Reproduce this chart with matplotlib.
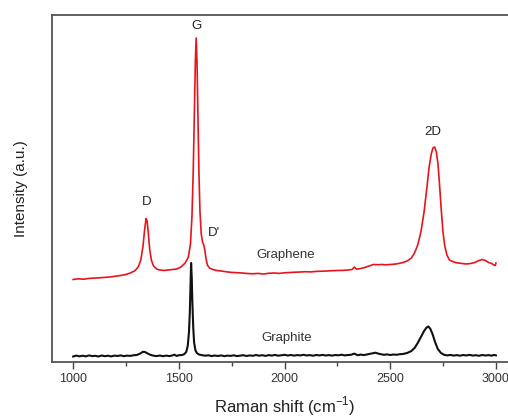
import matplotlib
matplotlib.use("Agg")
import matplotlib.pyplot as plt
from matplotlib.ticker import MultipleLocator

plt.rcParams['font.family'] = ['Liberation Sans', 'DejaVu Sans']

# Graphene spectrum (Raman shift in cm^-1, intensity in a.u.)
graphene_x = [1000, 1025, 1050, 1075, 1100, 1125, 1150, 1175, 1200, 1225, 1250, 1270, 1290,
              1300, 1310, 1320, 1330, 1338, 1345, 1350, 1356, 1362, 1370, 1380, 1395, 1410,
              1430, 1450, 1470, 1490, 1510, 1530, 1545, 1555, 1562, 1568, 1574, 1578, 1582,
              1586, 1590, 1595, 1600, 1606, 1612, 1618, 1623, 1628, 1635, 1645, 1660, 1680,
              1700, 1725, 1750, 1775, 1800, 1825, 1850, 1875, 1900, 1925, 1950, 1975, 2000,
              2025, 2050, 2075, 2100, 2125, 2150, 2175, 2200, 2225, 2250, 2275, 2300, 2320,
              2330, 2340, 2360, 2380, 2400, 2420, 2440, 2460, 2480, 2500, 2520, 2540, 2560,
              2580, 2600, 2615, 2630, 2645, 2660, 2672, 2684, 2694, 2702, 2710, 2718, 2726,
              2734, 2742, 2750, 2758, 2768, 2780, 2800, 2820, 2840, 2860, 2880, 2900, 2920,
              2935, 2950, 2965, 2980, 2990, 2997, 3000]
graphene_y = [82.5, 83.2, 82.8, 83.6, 83.9, 84.2, 84.6, 85.0, 85.8, 86.5, 87.5, 89.0, 91.0,
              93.0, 96.0, 102.0, 115.0, 132.0, 143.5, 141.0, 128.0, 113.0, 102.0, 96.0, 93.0, 92.0,
              91.5, 92.0, 92.5, 93.0, 95.0, 99.0, 105.0, 118.0, 145.0, 190.0, 255.0, 300.0, 324.0,
              300.0, 250.0, 190.0, 150.0, 128.0, 120.0, 117.0, 112.0, 104.0, 97.0, 94.0, 92.5, 91.5,
              91.0, 90.2, 89.6, 89.3, 89.0, 88.5, 88.2, 88.6, 88.0, 88.7, 89.0, 88.6, 89.2,
              89.5, 89.8, 90.0, 90.3, 90.1, 90.6, 90.8, 91.0, 91.3, 91.5, 91.6, 92.0, 92.5,
              95.0, 92.8, 93.5, 94.5, 96.0, 97.5, 97.3, 97.5, 97.2, 97.5, 97.8, 98.5, 99.5,
              101.0, 104.0, 109.0, 117.0, 130.0, 150.0, 172.0, 195.0, 208.0, 214.0, 215.0, 210.0, 198.0,
              175.0, 150.0, 129.0, 116.0, 107.0, 102.0, 100.0, 99.0, 98.5, 98.0, 98.5, 99.5, 101.5,
              102.5, 101.5, 99.5, 98.5, 97.0, 96.5, 99.0]

# Graphite spectrum
graphite_x = [1000, 1015, 1030, 1045, 1060, 1075, 1090, 1105, 1120, 1135, 1150, 1165, 1180,
              1195, 1210, 1225, 1240, 1255, 1270, 1285, 1300, 1315, 1330, 1340, 1350, 1365,
              1380, 1395, 1410, 1425, 1440, 1455, 1470, 1480, 1490, 1500, 1515, 1525, 1535,
              1542, 1548, 1552, 1555, 1558, 1561, 1564, 1568, 1572, 1578, 1585, 1595, 1610,
              1625, 1640, 1655, 1670, 1685, 1700, 1715, 1730, 1745, 1760, 1775, 1790, 1805,
              1820, 1835, 1850, 1865, 1880, 1895, 1910, 1925, 1940, 1955, 1970, 1985, 2000,
              2015, 2030, 2045, 2060, 2075, 2090, 2105, 2120, 2135, 2150, 2165, 2180, 2195,
              2210, 2225, 2240, 2255, 2270, 2285, 2300, 2315, 2330, 2345, 2360, 2375, 2390,
              2405, 2420, 2430, 2440, 2455, 2470, 2485, 2500, 2515, 2530, 2545, 2560, 2580,
              2600, 2615, 2630, 2645, 2660, 2672, 2681, 2690, 2700, 2712, 2725, 2740, 2755,
              2770, 2785, 2800, 2815, 2830, 2845, 2860, 2875, 2890, 2905, 2920, 2935, 2950,
              2965, 2980, 2990, 3000]
graphite_y = [5.5, 6.4, 5.7, 6.3, 5.6, 6.6, 5.9, 6.2, 5.5, 6.5, 5.8, 6.3, 5.6,
              6.4, 6.0, 6.6, 5.8, 6.4, 6.1, 6.7, 7.0, 8.2, 10.2, 10.0, 8.8, 7.2,
              6.3, 5.9, 6.5, 5.8, 6.4, 5.9, 6.6, 7.3, 6.0, 6.8, 7.0, 7.8, 10.0,
              16.0, 30.0, 50.0, 75.0, 99.0, 85.0, 60.0, 35.0, 20.0, 12.0, 9.0, 7.5, 6.8,
              6.3, 6.7, 5.9, 6.5, 6.0, 6.6, 5.8, 6.4, 6.1, 6.7, 5.9, 6.3, 6.8,
              6.0, 6.6, 6.2, 7.0, 6.3, 6.8, 6.1, 6.9, 6.4, 7.1, 6.3, 6.8, 7.2,
              6.5, 7.0, 6.4, 6.9, 6.6, 7.2, 6.5, 6.9, 6.3, 7.0, 6.6, 7.1, 6.5,
              6.9, 6.4, 7.0, 6.7, 7.3, 6.6, 7.0, 7.2, 8.4, 6.8, 7.4, 6.9, 7.6,
              8.2, 8.8, 9.3, 8.6, 7.8, 7.2, 7.6, 7.0, 7.5, 7.2, 7.8, 8.0, 9.0,
              11.0, 14.0, 19.0, 25.0, 31.0, 34.5, 35.5, 33.0, 28.0, 20.0, 13.0, 9.0, 7.2,
              6.6, 7.1, 6.4, 6.9, 6.3, 7.0, 6.5, 7.2, 6.4, 6.8, 6.2, 7.0, 6.5,
              6.9, 6.3, 7.1, 6.6]

peak_labels = ["G", "D", "D'", "2D"]
peak_label_x = [1582, 1350, 1665, 2703]
peak_label_y = [336, 160, 129, 230]

sample_labels = ["Graphene", "Graphite"]
sample_label_x = [2005, 2010]
sample_label_y = [107, 24]

xticks = [1000, 1500, 2000, 2500, 3000]

fig = plt.figure(figsize=(5.08, 4.18), dpi=100)
ax = fig.add_axes([52/508, 56/418, 2200*0.2114/508, 347/418])

ax.plot(graphene_x, graphene_y, color='#e8141c', lw=1.2)
ax.plot(graphite_x, graphite_y, color='#111111', lw=1.5)

for t, x, y in zip(peak_labels, peak_label_x, peak_label_y):
    ax.text(x, y, t, ha='center', va='center', fontsize=9.5, color='#222222')
for t, x, y in zip(sample_labels, sample_label_x, sample_label_y):
    ax.text(x, y, t, ha='center', va='center', fontsize=9.5, color='#333333')

ax.set_xlim(900, 3100)
ax.set_ylim(0, 347)
ax.set_xticks(xticks)
ax.xaxis.set_minor_locator(MultipleLocator(250))
ax.set_yticks([])
ax.tick_params(axis='x', which='major', direction='out', length=5, width=1.0,
               colors='#444444', labelsize=9, labelcolor='#333333', pad=3)
ax.tick_params(axis='x', which='minor', direction='out', length=3, width=1.0, colors='#444444')
for s in ['left', 'top', 'bottom', 'right']:
    ax.spines[s].set_color('#555555')
    ax.spines[s].set_linewidth(1.3)

ax.set_xlabel('Raman shift (cm$^{\\mathregular{-1}}$)', fontsize=12, color='#222222', labelpad=7)
ax.set_ylabel('Intensity (a.u.)', fontsize=11, color='#222222', labelpad=17)

fig.savefig('out.png', dpi=100)
